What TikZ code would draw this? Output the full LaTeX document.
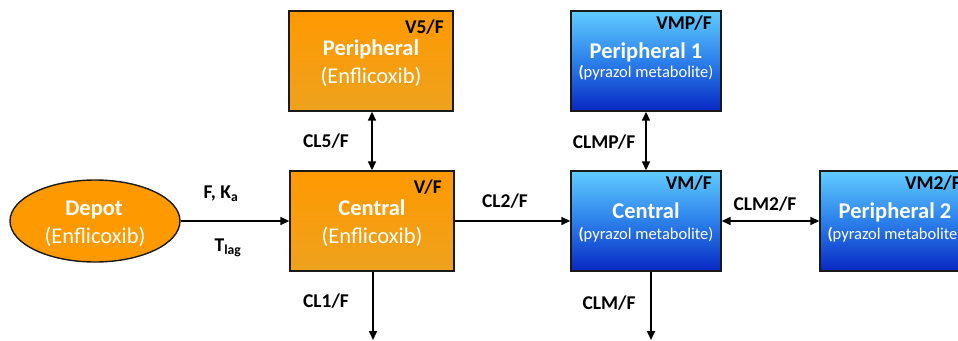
\documentclass[tikz,border=0pt]{standalone}
\usepackage{fontspec}
\setmainfont{Carlito}
\usetikzlibrary{arrows.meta,shapes.geometric}
\definecolor{orTop}{HTML}{FF9900}
\definecolor{orBot}{HTML}{EEA21E}
\definecolor{blTop}{HTML}{60CCFF}
\definecolor{blMid}{HTML}{2C80EA}
\definecolor{blBot}{HTML}{0828C4}
\definecolor{edge}{HTML}{1A1A1A}
\tikzset{
  orbox/.style={draw=edge,line width=1.4pt,top color=orTop,bottom color=orBot,minimum width=164pt,minimum height=100pt,inner sep=0pt},
  blbox/.style={draw=edge,line width=1.4pt,shading=blgrad,minimum width=150pt,minimum height=100pt,inner sep=0pt},
  ttl/.style={font=\fontsize{22.5}{24}\selectfont\bfseries,text=white,anchor=base,inner sep=0pt},
  sub/.style={font=\fontsize{22.5}{24}\selectfont,text=white,anchor=base,inner sep=0pt},
  subs/.style={font=\fontsize{16.5}{18}\selectfont,text=white,anchor=base,inner sep=0pt},
  lab/.style={font=\fontsize{19.5}{21}\selectfont\bfseries,text=black,anchor=base,inner sep=0pt},
  corner/.style={font=\fontsize{19.5}{21}\selectfont\bfseries,text=black,anchor=base east,inner sep=0pt},
  conn/.style={line width=1.6pt,-{Triangle[length=9pt,width=8pt]}},
  bconn/.style={line width=1.6pt,{Triangle[length=9pt,width=8pt]}-{Triangle[length=9pt,width=8pt]}}
}
\pgfdeclareverticalshading{blgrad}{100bp}{color(0bp)=(blBot); color(25bp)=(blBot); color(50bp)=(blMid); color(75bp)=(blTop); color(100bp)=(blTop)}
\begin{document}
\begin{tikzpicture}[x=1pt,y=-1pt]
\useasboundingbox (0,0) rectangle (958,340);
% boxes
\node[ellipse,draw=edge,line width=1.4pt,fill=orTop,minimum width=170pt,minimum height=82pt,inner sep=0pt] (depot) at (95,221) {};
\node[orbox] (perO) at (371,61) {};
\node[orbox] (cenO) at (372,221) {};
\node[blbox] (per1) at (646,61) {};
\node[blbox] (cenB) at (646,221) {};
\node[blbox] (per2) at (895,221) {};
% texts
\node[ttl] (t1) at (94,215) {Depot};
\node[sub] (t2) at (95,243) {(Enflicoxib)};
\node[ttl] (t3) at (371,55) {Peripheral};
\node[sub] (t4) at (371,83) {(Enflicoxib)};
\node[ttl] (t5) at (372,215) {Central};
\node[sub] (t6) at (372,243) {(Enflicoxib)};
\node[ttl] (t7) at (646,58) {Peripheral 1};
\node[subs] (t8) at (646,77) {\textbf{(}pyrazol metabolite)};
\node[ttl] (t9) at (646,218) {Central};
\node[subs] (t10) at (646,239) {\textbf{(}pyrazol metabolite)};
\node[ttl] (t11) at (895,218) {Peripheral 2};
\node[subs] (t12) at (895,239) {\textbf{(}pyrazol metabolite)};
% corner labels
\node[corner] (c1) at (444,33) {V5/F};
\node[corner] (c2) at (442,193) {V/F};
\node[corner] (c3) at (712,29) {VMP/F};
\node[corner] (c4) at (712,189) {VM/F};
\node[corner] (c5) at (961,189) {VM2/F};
% connectors
\coordinate (e1) at (373,340);
\coordinate (e2) at (651,340);
\draw[conn] (depot.east) -- (cenO.west);
\draw[bconn] (perO.south -| 372,0) -- (cenO.north);
\draw[conn] (cenO.east) -- (cenB.west);
\draw[bconn] (per1.south) -- (cenB.north);
\draw[bconn] (cenB.east) -- (per2.west);
\draw[conn] (cenO.south -| e1) -- (e1);
\draw[conn] (cenB.south -| e2) -- (e2);
% connector labels
\node[lab] (l1) at (221,198) {F, K\textsubscript{a}};
\node[lab] (l2) at (228,251) {T\textsubscript{lag}};
\node[lab] (l3) at (326,147) {CL5/F};
\node[lab] (l4) at (505,207) {CL2/F};
\node[lab] (l5) at (604,148) {CLMP/F};
\node[lab] (l6) at (765,210) {CLM2/F};
\node[lab] (l7) at (326,307) {CL1/F};
\node[lab] (l8) at (609,309) {CLM/F};
\end{tikzpicture}
\end{document}
